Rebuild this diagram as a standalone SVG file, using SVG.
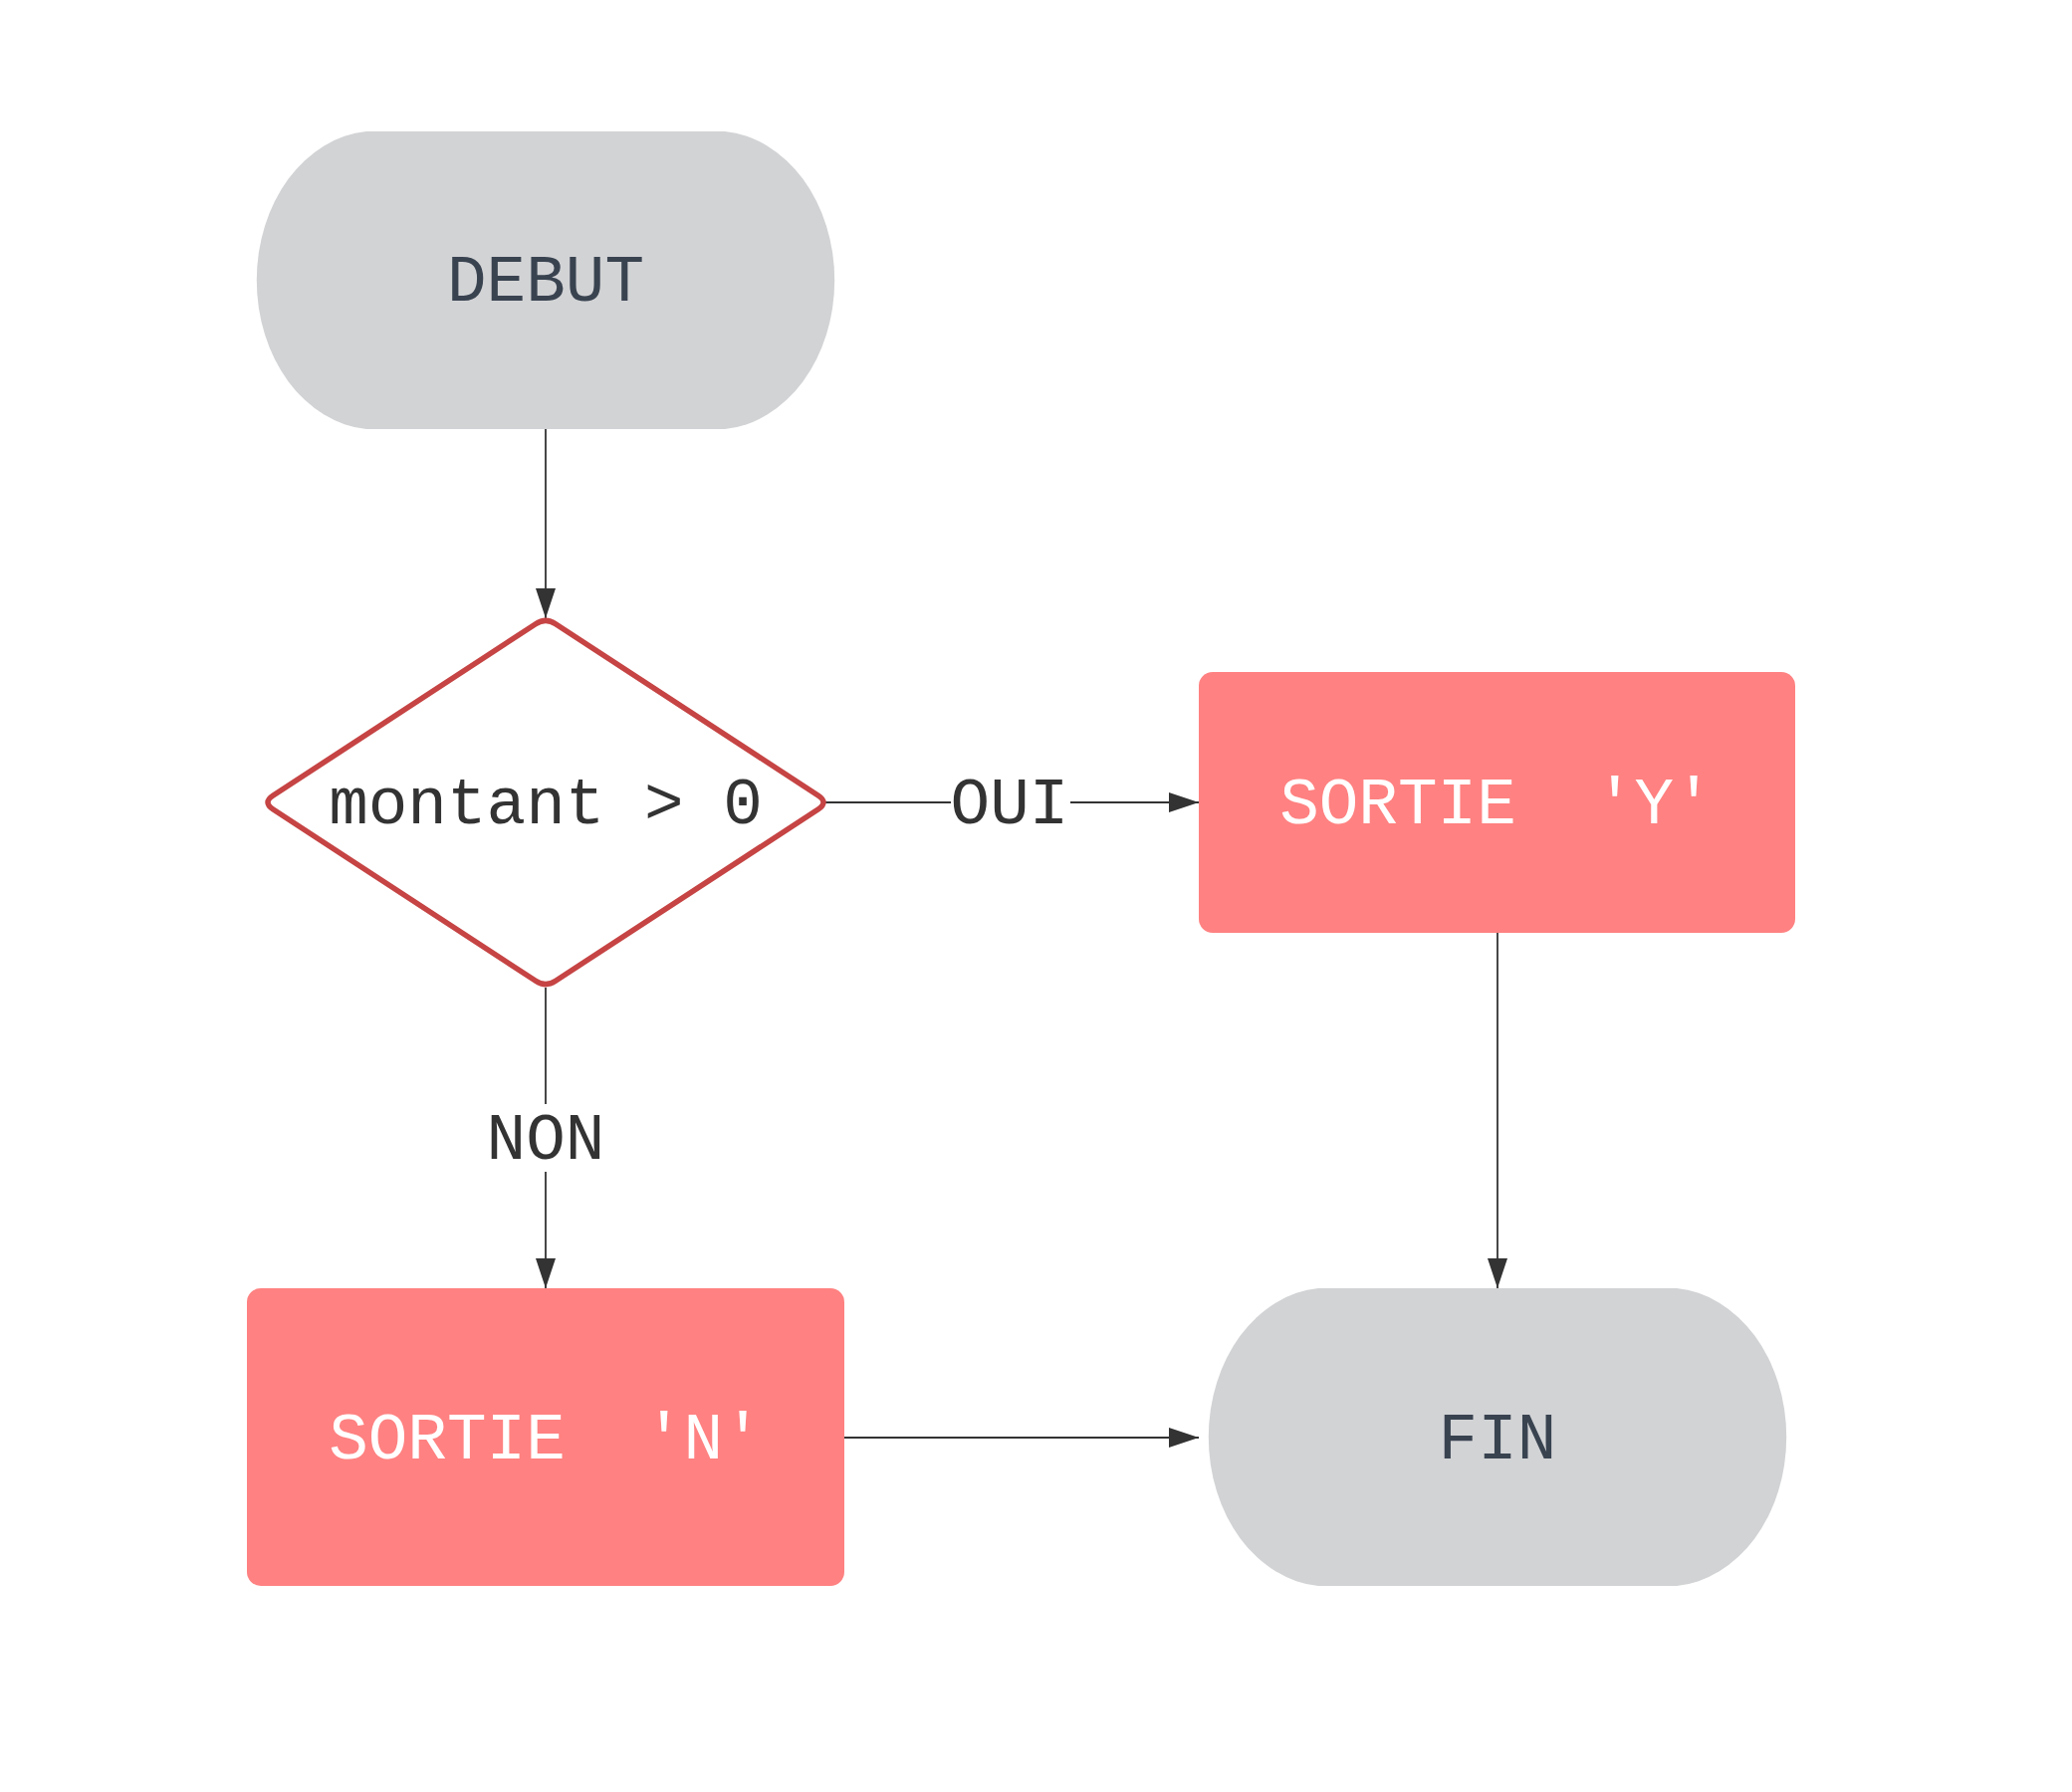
<svg xmlns="http://www.w3.org/2000/svg" width="2081" height="1800" viewBox="0 0 2081 1800">
<style>
.term{fill:#d2d3d5}
.proc{fill:#ff8181}
.dec{fill:#ffffff;stroke:#c64444;stroke-width:5.5;stroke-linejoin:round}
.txt{font-family:"Liberation Mono","DejaVu Sans Mono",monospace;font-size:66px;text-anchor:middle}
.dark{fill:#394350}
.white{fill:#ffffff}
.lbl{fill:#333333}
.edge{stroke:#333333;stroke-width:1.8;fill:none}
</style>
<defs>
<marker id="arrow" markerUnits="userSpaceOnUse" markerWidth="30" markerHeight="20" viewBox="0 0 30 20" refX="30" refY="10" orient="auto">
<path d="M0,0 L30,10 L0,20 z" fill="#333333"/>
</marker>
</defs>
<rect width="2081" height="1800" fill="#ffffff"/>
<g id="connectors">
<line class="edge" x1="548" y1="431" x2="548" y2="621" marker-end="url(#arrow)"/>
<line class="edge" x1="826" y1="806" x2="1204" y2="806" marker-end="url(#arrow)"/>
<line class="edge" x1="548" y1="992" x2="548" y2="1294" marker-end="url(#arrow)"/>
<line class="edge" x1="1504" y1="937" x2="1504" y2="1294" marker-end="url(#arrow)"/>
<line class="edge" x1="848" y1="1444" x2="1204" y2="1444" marker-end="url(#arrow)"/>
<rect x="955" y="776" width="120" height="60" fill="#ffffff"/>
<text class="txt lbl" x="1014" y="827">OUI</text>
<rect x="488" y="1109" width="120" height="68" fill="#ffffff"/>
<text class="txt lbl" x="548" y="1164">NON</text>
</g>
<g id="debut">
<path class="term" d="M368,132 H728 A120,150 0 0 1 728,431 H368 A120,150 0 0 1 368,132 Z"/>
<text class="txt dark" x="548" y="302">DEBUT</text>
</g>
<g id="decision">
<path class="dec" d="M538,626.7 Q548,620 558,626.7 L822,799.3 Q832,806 822,812.7 L558,985.3 Q548,992 538,985.3 L274,812.7 Q264,806 274,799.3 Z"/>
<text class="txt lbl" x="548" y="827">montant &gt; 0</text>
</g>
<g id="sortie-y">
<rect class="proc" x="1204" y="675" width="599" height="262" rx="14" ry="14"/>
<text class="txt white" x="1503" y="827" xml:space="preserve">SORTIE  'Y'</text>
</g>
<g id="sortie-n">
<rect class="proc" x="248" y="1294" width="600" height="299" rx="14" ry="14"/>
<text class="txt white" x="548" y="1465" xml:space="preserve">SORTIE  'N'</text>
</g>
<g id="fin">
<path class="term" d="M1324,1294 H1684 A120,150 0 0 1 1684,1593 H1324 A120,150 0 0 1 1324,1294 Z"/>
<text class="txt dark" x="1504" y="1465">FIN</text>
</g>
</svg>
